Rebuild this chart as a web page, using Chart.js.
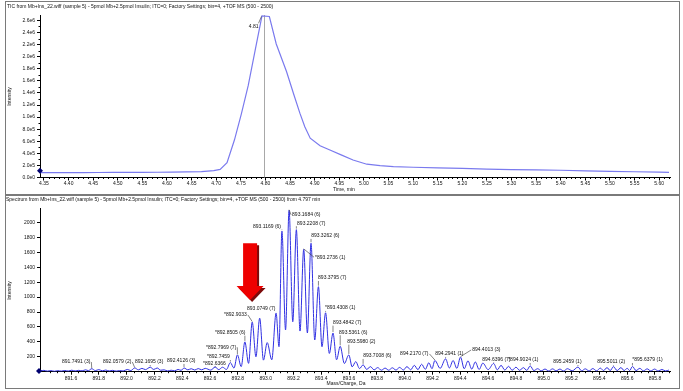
<!DOCTYPE html>
<html><head><meta charset="utf-8">
<script src="https://cdn.jsdelivr.net/npm/chart.js@4/dist/chart.umd.min.js"></script>
<style>
html,body{margin:0;padding:0;background:#fff;}
#wrap{position:relative;width:683px;height:391px;overflow:hidden;}
canvas{position:absolute;left:0;}
#c1{top:0;} #c2{top:195px;}
</style></head><body>
<div id="wrap"><canvas id="c1" width="683" height="195"></canvas><canvas id="c2" width="683" height="196"></canvas></div>
<script>
// ---------- DATA ----------
const ticTitle = "TIC from Mb+Ins_22.wiff (sample 5) - 5pmol Mb+2.5pmol Insulin; ITC=0; Factory Settings; bin=4, +TOF MS (500 - 2500)";
const specTitle = "Spectrum from Mb+Ins_22.wiff (sample 5) - 5pmol Mb+2.5pmol Insulin; ITC=0; Factory Settings; bin=4, +TOF MS (500 - 2500) from 4.797 min";

const timeTicks = [4.35,4.40,4.45,4.50,4.55,4.60,4.65,4.70,4.75,4.80,4.85,4.90,4.95,5.00,5.05,5.10,5.15,5.20,5.25,5.30,5.35,5.40,5.45,5.50,5.55,5.60];
const ticYTicks = [0,200000,400000,600000,800000,1000000,1200000,1400000,1600000,1800000,2000000,2200000,2400000,2600000];
const mzTicks = [891.6,891.8,892.0,892.2,892.4,892.6,892.8,893.0,893.2,893.4,893.6,893.8,894.0,894.2,894.4,894.6,894.8,895.0,895.2,895.4,895.6,895.8];
const specYTicks = [200,400,600,800,1000,1200,1400,1600,1800,2000];

const ticTime = [4.342,4.37,4.40,4.43,4.46,4.49,4.52,4.55,4.58,4.61,
  4.64,4.67,4.695,4.708,4.722,4.737,4.751,4.765,4.779,4.793,
  4.808,4.822,4.843,4.857,4.870,4.880,4.891,4.911,4.931,4.955,
  4.978,5.006,5.033,5.06,5.10,5.15,5.20,5.25,5.30,5.35,
  5.40,5.45,5.50,5.55,5.60,5.62];
const ticIntensity = [80000,81000,82000,82000,83000,84000,85000,86000,87000,88000,
  92000,98000,115000,135000,245000,620000,1050000,1520000,2100000,2675000,
  2665000,2210000,1750000,1390000,1065000,840000,650000,525000,455000,370000,
  290000,220000,195000,180000,170000,160000,150000,140000,130000,125000,
  120000,110000,100000,95000,90000,85000];
const ticApexLabel = "4.81";
const ticApexLabelAt = [4.786, 2504000];   // data coords of label anchor
const spectrumTime = 4.797;

const specMz = [891.380,891.405,891.430,891.455,891.480,891.505,891.530,891.555,891.580,891.605,
  891.630,891.655,891.680,891.705,891.725,891.749,891.775,891.800,891.825,891.850,
  891.875,891.900,891.925,891.950,891.975,892.005,892.030,892.058,892.085,892.110,
  892.135,892.170,892.195,892.220,892.245,892.270,892.295,892.320,892.345,892.370,
  892.392,892.413,892.440,892.465,892.490,892.515,892.540,892.565,892.605,892.6366,
  892.663,892.690,892.718,892.7459,892.772,892.7969,892.824,892.8505,892.877,892.9033,
  892.930,892.957,892.984,893.011,893.044,893.0749,893.096,893.1169,893.143,893.1684,
  893.195,893.2208,893.247,893.2736,893.300,893.3262,893.353,893.3795,893.405,893.4308,
  893.458,893.4842,893.510,893.5361,893.566,893.598,893.622,893.648,893.675,893.7008,
  893.727,893.753,893.780,893.806,893.832,893.859,893.885,893.911,893.937,893.964,
  893.990,894.016,894.043,894.069,894.095,894.122,894.148,894.174,894.196,894.217,
  894.255,894.2941,894.321,894.348,894.375,894.4013,894.428,894.455,894.482,894.508,
  894.535,894.562,894.600,894.6396,894.666,894.693,894.720,894.747,894.773,894.800,
  894.827,894.853,894.878,894.9024,894.929,894.956,894.982,895.009,895.036,895.063,
  895.089,895.116,895.143,895.170,895.205,895.2459,895.272,895.299,895.326,895.353,
  895.380,895.407,895.430,895.455,895.478,895.5011,895.528,895.555,895.578,895.600,
  895.618,895.6379,895.664,895.691,895.717,895.744,895.770,895.797,895.823,895.850,
  895.876,895.900];
const specIntensity = [10,18,8,15,6,14,8,16,9,20,
  10,18,12,25,14,40,15,28,12,22,
  10,18,8,15,10,30,15,50,25,45,
  28,60,30,50,20,25,10,20,12,30,
  18,50,25,40,22,42,25,45,22,62,
  28,60,30,122,48,225,68,400,112,665,
  200,718,155,390,160,785,335,1885,560,2165,
  670,1905,545,1640,520,1722,425,1140,335,790,
  245,518,160,340,110,225,65,135,42,92,
  30,68,25,55,20,48,20,52,22,58,
  22,68,25,85,28,100,32,120,40,150,
  45,172,50,150,45,195,40,145,35,130,
  30,115,28,110,25,85,22,72,20,60,
  18,55,18,78,15,40,12,35,10,38,
  12,35,10,40,12,62,12,38,10,42,
  12,48,15,55,15,68,15,55,15,45,
  15,70,15,45,12,38,10,35,10,30,
  10,22];

const annText = ["891.7491 (3)","892.0579 (2)","892.1695 (3)","892.4126 (3)","*892.6366","*892.7459","*892.7969 (7)","*892.8505 (6)","*892.9033","893.0749 (7)",
  "893.1169 (6)","893.1684 (6)","893.2208 (7)","*893.2736 (1)","893.3262 (6)","893.3795 (7)","*893.4308 (1)","893.4842 (7)","893.5361 (6)","893.5980 (2)",
  "893.7008 (6)","894.2170 (7)","894.2941 (1)","894.4013 (3)","894.6396 (7)","*894.9024 (1)","895.2459 (1)","895.5011 (2)","*895.6379 (1)"];
const annPeakMz = [891.7491,892.0579,892.1695,892.4126,892.6366,892.7459,892.7969,892.8505,892.9033,893.0749,
  893.1169,893.1684,893.2208,893.2736,893.3262,893.3795,893.4308,893.4842,893.5361,893.5980,
  893.7008,894.2170,894.2941,894.4013,894.6396,894.9024,895.2459,895.5011,895.6379];
const annPeakI = [40,50,60,50,62,122,225,400,665,785,
  1885,2165,1905,1640,1722,1140,790,518,340,225,
  92,150,172,195,110,78,62,68,70];
const annLabelMz = [891.535,891.830,892.060,892.291,892.550,892.578,892.571,892.636,892.701,892.866,
  892.909,893.190,893.226,893.355,893.327,893.377,893.427,893.485,893.528,893.586,
  893.701,893.967,894.219,894.485,894.557,894.744,895.068,895.384,895.637];
const annLabelI = [130,130,130,144,103,197,327,523,761,841,
  1946,2103,1991,1535,1821,1257,855,658,529,403,
  211,238,238,291,157,157,130,130,157];

const arrowMz = 892.888, arrowTipI = 962, arrowTailI = 1723;

// ---------- STYLE ----------
const F = '"Liberation Sans", Arial, sans-serif';
const FS = 5;
const TXT = '#111';

function text(ctx, s, x, y, align, rot) {
  ctx.save();
  ctx.font = FS + 'px ' + F; ctx.fillStyle = TXT;
  ctx.textAlign = align || 'left'; ctx.textBaseline = 'middle';
  ctx.translate(x, y); if (rot) ctx.rotate(rot);
  ctx.fillText(s, 0, 0);
  ctx.restore();
}
function diamond(ctx, x, y) {
  ctx.save(); ctx.fillStyle = '#000070';
  ctx.beginPath(); ctx.moveTo(x, y - 3); ctx.lineTo(x + 3, y); ctx.lineTo(x, y + 3); ctx.lineTo(x - 3, y); ctx.closePath(); ctx.fill();
  ctx.restore();
}
function axisStyle(tickValues) {
  return {
    afterBuildTicks(s) { s.ticks = tickValues.map(v => ({ value: v })); },
    grid: { drawOnChartArea: false, drawTicks: true, tickLength: 3, color: '#000', lineWidth: 1 },
    border: { display: true, color: '#000', width: 1 }
  };
}

// ---------- TIC chart ----------
const ticDeco = {
  id: 'ticDeco',
  beforeDatasetsDraw(chart) {
    const { ctx, chartArea: ca, scales: { x } } = chart;
    const px = Math.round(x.getPixelForValue(spectrumTime)) + 0.5;
    ctx.save(); ctx.strokeStyle = '#a8a8a8'; ctx.lineWidth = 1;
    ctx.beginPath(); ctx.moveTo(px, ca.top); ctx.lineTo(px, ca.bottom); ctx.stroke(); ctx.restore();
  },
  afterDraw(chart) {
    const { ctx, chartArea: ca, scales: { x, y } } = chart;
    ctx.save();
    ctx.strokeStyle = '#000'; ctx.lineWidth = 1; ctx.beginPath();
    for (let k = Math.ceil(x.min / 0.01 - 1e-6); k * 0.01 <= x.max + 1e-9; k++) {
      if (k % 5 === 0) continue;
      const p = Math.round(x.getPixelForValue(k * 0.01)) + 0.5;
      ctx.moveTo(p, ca.bottom); ctx.lineTo(p, ca.bottom + 1.5);
    }
    for (let k = 1; k * 1e5 <= y.max; k += 2) {
      const p = Math.round(y.getPixelForValue(k * 1e5)) + 0.5;
      ctx.moveTo(ca.left - 1.5, p); ctx.lineTo(ca.left, p);
    }
    ctx.stroke();
    // apex label
    let mi = 0; ticIntensity.forEach((v, i) => { if (v > ticIntensity[mi]) mi = i; });
    const ax = x.getPixelForValue(ticTime[mi]), ay = y.getPixelForValue(ticIntensity[mi]);
    const lx = x.getPixelForValue(ticApexLabelAt[0]), ly = y.getPixelForValue(ticApexLabelAt[1]);
    text(ctx, ticApexLabel, lx, ly, 'right');
    ctx.strokeStyle = '#333'; ctx.lineWidth = 0.6;
    ctx.beginPath(); ctx.moveTo(lx, ly - 3); ctx.lineTo(ax - 0.5, ay + 0.5); ctx.stroke();
    // titles
    text(ctx, ticTitle, 7, 7, 'left');
    text(ctx, 'Intensity', 10, 96.5, 'center', -Math.PI / 2);
    text(ctx, 'Time, min', 344, 189.5, 'center');
    diamond(ctx, ca.left, y.getPixelForValue(ticIntensity[0]) - 2);
    ctx.strokeStyle = '#7a7a7a'; ctx.lineWidth = 1;
    ctx.strokeRect(5.5, 1.5, 674, 193);
    ctx.restore();
  }
};

new Chart(document.getElementById('c1'), {
  type: 'line',
  data: { datasets: [{
    data: ticTime.map((t, i) => ({ x: t, y: ticIntensity[i] })),
    borderColor: 'rgb(122,122,238)', borderWidth: 1.2, pointRadius: 0, tension: 0, fill: false
  }] },
  options: {
    responsive: false, animation: false, devicePixelRatio: 1,
    layout: { padding: { left: 0, right: 13, top: 15, bottom: 0 } },
    plugins: { legend: { display: false }, tooltip: { enabled: false } },
    scales: {
      x: Object.assign({ type: 'linear', min: 4.342, max: 5.622,
        afterFit(s) { s.height = 17.5; },
        ticks: { autoSkip: false, maxRotation: 0, padding: 0.5,
          font: { size: FS, family: F }, color: TXT, callback: v => Number(v).toFixed(2) } }, axisStyle(timeTicks)),
      y: Object.assign({ min: 0, max: 2690000,
        afterFit(s) { s.width = 40; },
        ticks: { autoSkip: false, padding: 2,
          font: { size: FS, family: F }, color: TXT,
          callback: v => Number(v).toExponential(1).replace('e+', 'e') } }, axisStyle(ticYTicks))
    }
  },
  plugins: [ticDeco]
});

// ---------- Spectrum chart ----------
const specDeco = {
  id: 'specDeco',
  afterDraw(chart) {
    const { ctx, chartArea: ca, scales: { x, y } } = chart;
    ctx.save();
    ctx.strokeStyle = '#000'; ctx.lineWidth = 1; ctx.beginPath();
    for (let k = Math.ceil(x.min / 0.05 - 1e-6); k * 0.05 <= x.max + 1e-9; k++) {
      if (k % 4 === 0) continue;
      const p = Math.round(x.getPixelForValue(k * 0.05)) + 0.5;
      ctx.moveTo(p, ca.bottom); ctx.lineTo(p, ca.bottom + 1.5);
    }
    ctx.stroke();
    // annotations
    ctx.font = FS + 'px ' + F;
    ctx.strokeStyle = '#333'; ctx.lineWidth = 0.6;
    annText.forEach((s, i) => {
      const px = x.getPixelForValue(annPeakMz[i]), py = y.getPixelForValue(annPeakI[i]);
      const lx = x.getPixelForValue(annLabelMz[i]), ly = y.getPixelForValue(annLabelI[i]);
      const w = ctx.measureText(s).width;
      text(ctx, s, lx, ly, 'left');
      ctx.beginPath();
      if (px >= lx - 1 && px <= lx + w + 1) {
        if (py > ly + 3) { ctx.moveTo(px, ly + 3); ctx.lineTo(px, py - 1); }
      } else {
        const ex = px < lx ? lx - 1 : lx + w + 1;
        ctx.moveTo(ex, ly); ctx.lineTo(px, py - 0.5);
      }
      ctx.stroke();
    });
    // red arrow
    const ax = x.getPixelForValue(arrowMz), tipY = y.getPixelForValue(arrowTipI), tailY = y.getPixelForValue(arrowTailI);
    const headH = 14, sw = 7, hw = 13.5;
    const path = (dx, dy) => {
      ctx.beginPath();
      ctx.moveTo(ax - sw + dx, tailY + dy); ctx.lineTo(ax + sw + dx, tailY + dy);
      ctx.lineTo(ax + sw + dx, tipY - headH + dy); ctx.lineTo(ax + hw + dx, tipY - headH + dy);
      ctx.lineTo(ax + dx, tipY + dy); ctx.lineTo(ax - hw + dx, tipY - headH + dy);
      ctx.lineTo(ax - sw + dx, tipY - headH + dy); ctx.closePath();
    };
    ctx.fillStyle = '#7c0a0a'; path(2, 2); ctx.fill();
    ctx.fillStyle = '#ee0000'; path(0, 0); ctx.fill();
    // titles
    text(ctx, specTitle, 6, 5, 'left');
    text(ctx, 'Intensity', 10, 95.5, 'center', -Math.PI / 2);
    text(ctx, 'Mass/Charge, Da', 346, 189, 'center');
    diamond(ctx, ca.left - 1, y.getPixelForValue(specIntensity[0]));
    ctx.strokeStyle = '#7a7a7a'; ctx.lineWidth = 1;
    ctx.strokeRect(5.5, 0.5, 674, 193);
    ctx.restore();
  }
};

new Chart(document.getElementById('c2'), {
  type: 'line',
  data: { datasets: [{
    data: specMz.map((m, i) => ({ x: m, y: specIntensity[i] })),
    borderColor: 'rgb(48,48,226)', borderWidth: 1, pointRadius: 0,
    cubicInterpolationMode: 'monotone', fill: false
  }] },
  options: {
    responsive: false, animation: false, devicePixelRatio: 1,
    layout: { padding: { left: 0, right: 13, top: 13, bottom: 0 } },
    plugins: { legend: { display: false }, tooltip: { enabled: false } },
    scales: {
      x: Object.assign({ type: 'linear', min: 891.377, max: 895.908,
        afterFit(s) { s.height = 19.3; },
        ticks: { autoSkip: false, maxRotation: 0, padding: 0.5,
          font: { size: FS, family: F }, color: TXT, callback: v => Number(v).toFixed(1) } }, axisStyle(mzTicks)),
      y: Object.assign({ min: 0, max: 2195,
        afterFit(s) { s.width = 40; },
        ticks: { autoSkip: false, padding: 2,
          font: { size: FS, family: F }, color: TXT,
          callback: v => String(v) } }, axisStyle(specYTicks))
    }
  },
  plugins: [specDeco]
});
</script>
</body></html>
